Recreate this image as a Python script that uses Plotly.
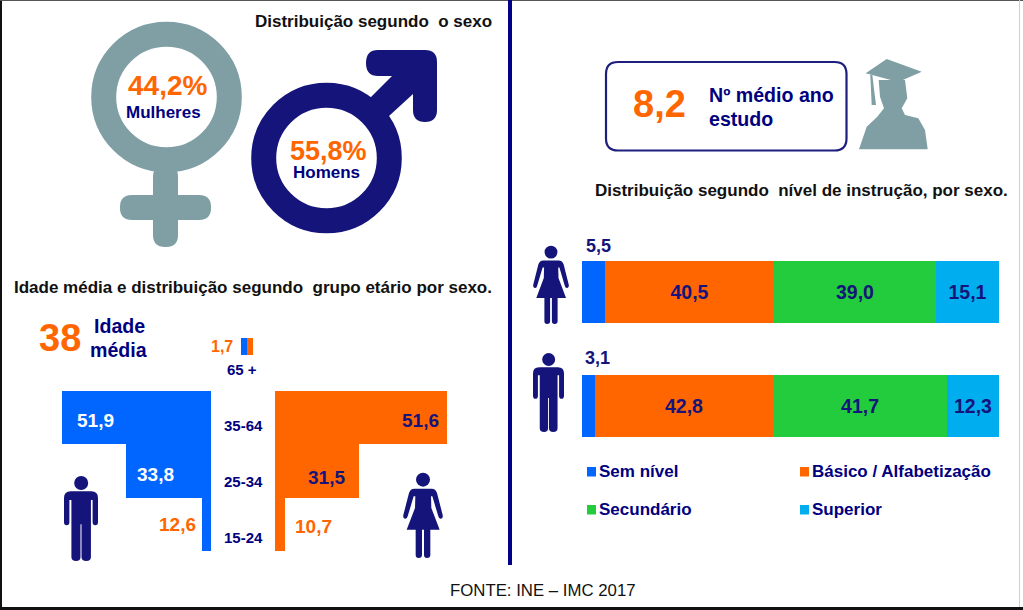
import plotly.graph_objects as go

# ---------- data ----------
age_groups = ["35-64", "25-34", "15-24"]
men_age_shown = [51.9, 33.8, 12.6]
women_age_shown = [51.6, 31.5, 10.7]
# the reference draws these bars at lengths that do not follow the printed values
men_age_drawn = [149, 85, 9]
women_age_drawn = [172, 84, 10]
older_group = "65 +"
older_share = 1.7
sexes = ["Mulheres", "Homens"]
sex_share = [44.2, 55.8]
edu_levels = ["Sem nível", "Básico / Alfabetização", "Secundário", "Superior"]
edu_women = [5.5, 40.5, 39.0, 15.1]
edu_men = [3.1, 42.8, 41.7, 12.3]
mean_age = 38
mean_years = 8.2

# ---------- style ----------
W, H = 1023, 610
NAVY = "#00007f"
ICON = "#14147a"
GREY = "#7f9fa5"
ORANGE = "#ff6600"
BLUE = "#0066ff"
GREEN = "#22cc3c"
CYAN = "#00aeef"
FONT = "Liberation Sans"
edu_colors = [BLUE, ORANGE, GREEN, CYAN]


def comma(v, d=1):
    return f"{v:.{d}f}".replace(".", ",")


def xdom(a, b):
    return [a / W, b / W]


def ydom(top, bottom):
    return [1 - bottom / H, 1 - top / H]


fig = go.Figure()

# full-canvas pixel axes used for the drawing layer
fig.add_trace(go.Scatter(x=[None], y=[None], xaxis="x", yaxis="y", showlegend=False, hoverinfo="skip"))

# ---------- pyramid ----------
fig.add_trace(go.Bar(y=age_groups, x=men_age_drawn, orientation="h", width=1, marker=dict(color=BLUE, line_width=0),
                     xaxis="x2", yaxis="y2", showlegend=False, customdata=men_age_shown,
                     hovertemplate="Homens %{y}: %{customdata:.1f}<extra></extra>"))
fig.add_trace(go.Bar(y=age_groups, x=women_age_drawn, orientation="h", width=1, marker=dict(color=ORANGE, line_width=0),
                     xaxis="x3", yaxis="y3", showlegend=False, customdata=women_age_shown,
                     hovertemplate="Mulheres %{y}: %{customdata:.1f}<extra></extra>"))
# 65+
fig.add_trace(go.Bar(y=[older_group], x=[older_share], orientation="h", width=1, marker=dict(color=BLUE, line_width=0),
                     xaxis="x4", yaxis="y4", showlegend=False))
fig.add_trace(go.Bar(y=[older_group], x=[older_share], orientation="h", width=1, marker=dict(color=ORANGE, line_width=0),
                     xaxis="x4", yaxis="y4", showlegend=False))

# ---------- education ----------
for i, lev in enumerate(edu_levels):
    fig.add_trace(go.Bar(
        y=sexes, x=[edu_women[i], edu_men[i]], name=lev, orientation="h", width=0.544,
        marker=dict(color=edu_colors[i], line_width=0), xaxis="x5", yaxis="y5", showlegend=False,
        texttemplate="%{x:.1f}" if i > 0 else "", textposition="inside", insidetextanchor="middle",
        textangle=0, constraintext="none",
        textfont=dict(family=FONT, size=19.5, color=ICON, weight="bold"),
    ))


def hidden(**kw):
    return dict(visible=False, fixedrange=True, **kw)


fig.update_layout(
    width=W, height=H, margin=dict(l=0, r=0, t=0, b=0), autosize=False,
    paper_bgcolor="white", plot_bgcolor="white", barmode="stack", bargap=0,
    separators=",.", showlegend=False,
    xaxis=hidden(domain=[0, 1], range=[0, W], anchor="y"),
    yaxis=hidden(domain=[0, 1], range=[H, 0], anchor="x"),
    xaxis2=hidden(domain=xdom(62, 211), range=[149, 0], anchor="y2"),
    yaxis2=hidden(domain=ydom(391, 551), autorange="reversed", type="category", anchor="x2"),
    xaxis3=hidden(domain=xdom(275, 447), range=[0, 172], anchor="y3"),
    yaxis3=hidden(domain=ydom(391, 551), autorange="reversed", type="category", anchor="x3"),
    xaxis4=hidden(domain=xdom(241, 253), range=[0, 2 * older_share], anchor="y4"),
    yaxis4=hidden(domain=ydom(338, 355), type="category", anchor="x4"),
    xaxis5=hidden(domain=xdom(582, 999), range=[0, 100], anchor="y5"),
    yaxis5=hidden(domain=ydom(235, 463), autorange="reversed", type="category", anchor="x5"),
)

# ---------- drawing helpers ----------
shapes = []


def path(d, color):
    shapes.append(dict(type="path", xref="x", yref="y", path=d, fillcolor=color, line_width=0, layer="above"))


def circle(cx, cy, r, fill=None, line=None, lw=0):
    shapes.append(dict(type="circle", xref="x", yref="y", x0=cx - r, x1=cx + r, y0=cy - r, y1=cy + r,
                       fillcolor=fill or "rgba(0,0,0,0)", line=dict(color=line or "rgba(0,0,0,0)", width=lw),
                       layer="above"))


def rrect(x0, y0, x1, y1, r):
    return (f"M{x0+r},{y0} L{x1-r},{y0} Q{x1},{y0} {x1},{y0+r} L{x1},{y1-r} Q{x1},{y1} {x1-r},{y1} "
            f"L{x0+r},{y1} Q{x0},{y1} {x0},{y1-r} L{x0},{y0+r} Q{x0},{y0} {x0+r},{y0} Z")


def scaled(cmds, ox, oy, sx, sy):
    out = []
    for c in cmds:
        if c[0] == "Z":
            out.append("Z")
            continue
        pts = c[1]
        out.append(c[0] + " ".join(f"{ox + p[0] * sx:.2f},{oy + p[1] * sy:.2f}" for p in pts))
    return " ".join(out)


MAN = [("M", [(20, 46)]), ("L", [(81, 46)]), ("Q", [(101, 46), (101, 66)]), ("L", [(101, 138)]),
       ("Q", [(101, 148), (93, 148)]), ("Q", [(85, 148), (85, 138)]), ("L", [(85, 72)]), ("L", [(80, 72)]),
       ("L", [(80, 243)]), ("Q", [(80, 255), (66, 255)]), ("Q", [(52, 255), (52, 243)]), ("L", [(52, 145)]),
       ("L", [(49, 145)]), ("L", [(49, 243)]), ("Q", [(49, 255), (36, 255)]), ("Q", [(22, 255), (22, 243)]),
       ("L", [(22, 72)]), ("L", [(16, 72)]), ("L", [(16, 138)]), ("Q", [(16, 148), (8, 148)]),
       ("Q", [(0, 148), (0, 138)]), ("L", [(0, 66)]), ("Q", [(0, 46), (20, 46)]), ("Z",)]

WOMAN = [("M", [(34, 47)]), ("L", [(86, 47)]), ("Q", [(98, 47), (102, 60)]), ("L", [(119, 126)]),
         ("Q", [(121, 136), (114, 137)]), ("Q", [(108, 138), (106, 130)]), ("L", [(88, 70)]), ("L", [(84, 70)]),
         ("L", [(85, 105)]), ("L", [(110, 170)]), ("L", [(82, 170)]), ("L", [(82, 246)]),
         ("Q", [(82, 255), (72, 255)]), ("Q", [(63, 255), (63, 246)]), ("L", [(63, 170)]), ("L", [(57, 170)]),
         ("L", [(57, 246)]), ("Q", [(57, 255), (47, 255)]), ("Q", [(38, 255), (38, 246)]), ("L", [(38, 170)]),
         ("L", [(11, 170)]), ("L", [(36, 105)]), ("L", [(37, 70)]), ("L", [(32, 70)]), ("L", [(14, 130)]),
         ("Q", [(12, 138), (6, 137)]), ("Q", [(-1, 136), (1, 126)]), ("L", [(18, 60)]), ("Q", [(22, 47), (34, 47)]),
         ("Z",)]


def man(x0, y0, x1, y1):
    sx, sy = (x1 - x0) / 101, (y1 - y0) / 255
    path(scaled(MAN, x0, y0, sx, sy), ICON)
    circle(x0 + 51 * sx, y0 + 21 * sy, 21 * sy, fill=ICON)


def woman(x0, y0, x1, y1):
    sx, sy = (x1 - x0) / 120, (y1 - y0) / 255
    path(scaled(WOMAN, x0, y0, sx, sy), ICON)
    circle(x0 + 60 * sx, y0 + 20 * sy, 21 * sy, fill=ICON)


# border and divider
shapes.append(dict(type="rect", xref="x", yref="y", x0=0, x1=2, y0=0, y1=H, fillcolor="#111111", line_width=0))
shapes.append(dict(type="rect", xref="x", yref="y", x0=0, x1=W, y0=607, y1=H, fillcolor="#111111", line_width=0))
shapes.append(dict(type="rect", xref="x", yref="y", x0=0, x1=W, y0=0, y1=1, fillcolor="#555555", line_width=0))
shapes.append(dict(type="rect", xref="x", yref="y", x0=1019, x1=1020, y0=0, y1=607, fillcolor="#d0d0d0", line_width=0))
shapes.append(dict(type="rect", xref="x", yref="y", x0=508, x1=512, y0=0, y1=565, fillcolor="#00008b", line_width=0))

# female symbol
path(rrect(153, 165, 178, 247, 12), GREY)
path(rrect(120, 195, 211, 220, 12), GREY)
circle(166.5, 97, 62.8, line=GREY, lw=25)
# male symbol
path("M378,50 L425,50 Q437,50 437,62 L437,110 Q437,122 425,122 Q413,122 413,110 L413,94 L389,116 L380,125 "
     "L362,106 L371,97 L392,76 L378,76 Q366,76 366,63 Q366,50 378,50 Z", ICON)
circle(326.5, 158, 62.8, line=ICON, lw=25)

# people
man(64, 476, 98, 561)
woman(403, 473, 443, 558)
woman(533, 246, 569, 324)
man(533, 353, 564, 432)

# number box
shapes.append(dict(type="path", xref="x", yref="y", path=rrect(606, 62, 846.5, 150.5, 12), fillcolor="rgba(0,0,0,0)",
                   line=dict(color="#1e1e7e", width=2.2), layer="above"))

# graduate
gx = lambda v: 590 + v / 3
gy = lambda v: 40 + v / 3
person = [(807, 328), (830, 260), (862, 230), (882, 205), (870, 170), (866, 120), (945, 120), (952, 175), (935, 205),
          (945, 225), (985, 235), (1005, 270), (1013, 328)]
path("M" + " L".join(f"{gx(a):.1f},{gy(b):.1f}" for a, b in person) + " Z", GREY)
cap = [(890, 57), (995, 95), (925, 126), (827, 100)]
path("M" + " L".join(f"{gx(a):.1f},{gy(b):.1f}" for a, b in cap) + " Z", GREY)
tassel = [(841, 105), (847, 105), (858, 195), (845, 195)]
path("M" + " L".join(f"{gx(a):.1f},{gy(b):.1f}" for a, b in tassel) + " Z", GREY)

# education legend
legend_pos = [(587, 467), (800, 467), (587, 505), (800, 505)]
for (lx, ly), col in zip(legend_pos, edu_colors):
    shapes.append(dict(type="rect", xref="x", yref="y", x0=lx, x1=lx + 9, y0=ly, y1=ly + 9.5, fillcolor=col, line_width=0))
fig.update_layout(shapes=shapes)


# ---------- text ----------
def T(x, y, text, size, color=NAVY, bold=True, anchor="center"):
    fig.add_annotation(x=x, y=y, xref="x", yref="y", text=text, showarrow=False, xanchor=anchor, yanchor="middle",
                       font=dict(family=FONT, size=size, color=color, weight="bold" if bold else "normal"))


T(373, 21, "Distribuição segundo\u00a0\u00a0o sexo", 17, "#111111")
T(801, 190, "Distribuição segundo\u00a0\u00a0nível de instrução, por sexo.", 17, "#111111")
T(253, 287, "Idade média e distribuição segundo\u00a0\u00a0grupo etário por sexo.", 17, "#111111")
T(543, 590, "FONTE: INE – IMC 2017", 16.8, "#111111", bold=False)

T(167, 85, comma(sex_share[0]) + "%", 28, ORANGE)
T(163, 112, sexes[0], 17)
T(328, 151, comma(sex_share[1]) + "%", 27, ORANGE)
T(326, 172, sexes[1], 17)

T(659, 104, comma(mean_years), 38, ORANGE)
T(707, 95, "Nº médio ano", 19.6, anchor="left")
T(707, 119, "estudo", 19.6, anchor="left")

T(60, 338, str(mean_age), 38, ORANGE)
T(119, 326, "Idade", 19.6)
T(119, 350, "média", 19.6)

T(222, 346, comma(older_share), 16, ORANGE)
T(242, 369, older_group, 15)
for y, g in zip([425, 481, 537], age_groups):
    T(243, y, g, 15)

for (x, y), v, c in zip([(95, 420), (155, 474), (177, 524)], men_age_shown, ["white", "white", ORANGE]):
    T(x, y, comma(v), 19, c)
for (x, y), v, c in zip([(420, 420), (326, 477), (313, 526)], women_age_shown, [ICON, ICON, ORANGE]):
    T(x, y, comma(v), 19, c)

T(598, 246, comma(edu_women[0]), 18, ICON)
T(597, 358, comma(edu_men[0]), 18, ICON)

for (lx, ly), name in zip(legend_pos, edu_levels):
    T(lx + 10, ly + 4.5, name, 17, anchor="left")

fig.write_html("out.html", post_script="document.body.style.margin='0';", config={"displayModeBar": False})
